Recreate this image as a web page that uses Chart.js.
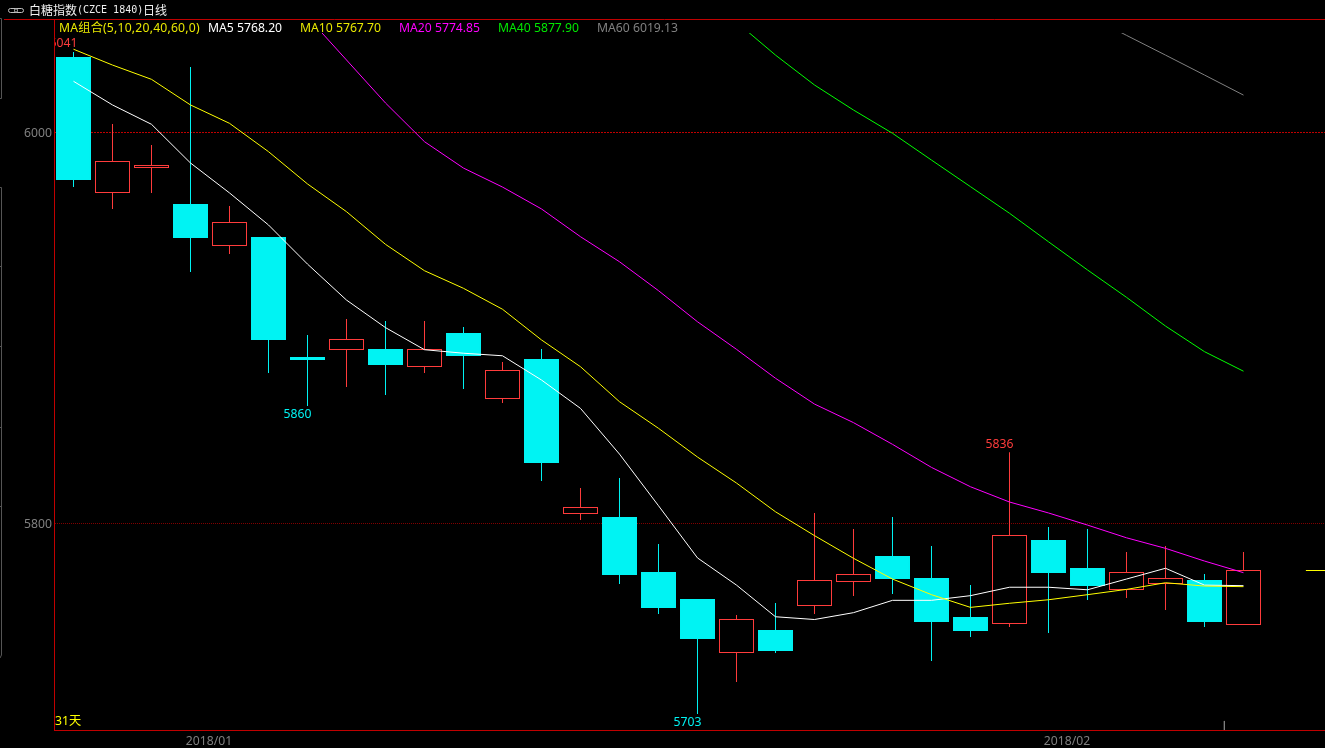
<!DOCTYPE html>
<html>
<head>
<meta charset="utf-8">
<title>白糖指数(CZCE 1840)日线</title>
<script src="https://cdn.jsdelivr.net/npm/chart.js@4/dist/chart.umd.min.js"></script>
<style>
  html, body { margin: 0; padding: 0; background: #000; overflow: hidden; }
  canvas { display: block; background: #000; }
</style>
</head>
<body>
<canvas id="kline" width="1325" height="748"></canvas>
<script>
// Trading days shown on the chart
const dates = [
  '2017/12/26', '2017/12/27', '2017/12/28', '2017/12/29',
  '2018/01/02', '2018/01/03', '2018/01/04', '2018/01/05',
  '2018/01/08', '2018/01/09', '2018/01/10', '2018/01/11', '2018/01/12',
  '2018/01/15', '2018/01/16', '2018/01/17', '2018/01/18', '2018/01/19',
  '2018/01/22', '2018/01/23', '2018/01/24', '2018/01/25', '2018/01/26',
  '2018/01/29', '2018/01/30', '2018/01/31',
  '2018/02/01', '2018/02/02', '2018/02/05', '2018/02/06', '2018/02/07'
];

// OHLC
const opens = [
  6038.6, 5969.1, 5981.8, 5963.4, 5941.9, 5946.5, 5885.2, 5888.7, 5889.3, 5880.1, 5897.4,
  5863.7, 5884.1, 5804.9, 5803.3, 5775.2, 5761.4, 5733.8, 5745.5, 5757.8, 5770.1,
  5783.4, 5772.1, 5752.2, 5748.6, 5791.6, 5777.2, 5766.0, 5769.1, 5771.1, 5748.1
];
const highs = [
  6041.2, 6004.3, 5993.6, 6033.5, 5962.4, 5946.5, 5896.4, 5904.6, 5903.6, 5903.6, 5900.5,
  5882.6, 5889.3, 5818.2, 5823.3, 5789.5, 5761.4, 5753.2, 5759.3, 5805.4, 5797.2,
  5803.3, 5788.5, 5768.5, 5836.4, 5798.2, 5797.2, 5785.4, 5788.5, 5774.2, 5785.4
];
const lows = [
  5972.1, 5960.9, 5969.1, 5928.6, 5937.9, 5877.0, 5860.1, 5869.8, 5865.7, 5877.0, 5868.8,
  5861.6, 5821.7, 5801.8, 5769.1, 5753.7, 5702.6, 5718.9, 5733.8, 5753.7, 5762.9,
  5763.9, 5729.7, 5741.9, 5747.1, 5744.0, 5760.9, 5761.9, 5755.8, 5747.1, 5748.1
];
const closes = [
  5975.7, 5985.4, 5983.4, 5946.0, 5954.2, 5893.9, 5883.6, 5894.4, 5881.1, 5889.3, 5885.7,
  5878.5, 5830.9, 5808.4, 5773.7, 5756.8, 5740.9, 5751.2, 5734.8, 5771.1, 5774.2,
  5771.6, 5749.6, 5745.0, 5794.1, 5774.7, 5768.0, 5775.2, 5772.1, 5749.6, 5776.2
];

// Moving averages (null until the line enters the plot)
const ma5 = [
  6026.2, 6014.1, 6004.2, 5984.4, 5969.1, 5952.7, 5932.7, 5914.3, 5900.2, 5888.9, 5887.1,
  5885.8, 5873.4, 5858.9, 5835.5, 5809.1, 5782.4, 5768.5, 5752.3, 5750.9, 5754.4,
  5760.7, 5760.7, 5763.1, 5767.4, 5767.4, 5766.1, 5771.6, 5777.1, 5768.5, 5768.2
];
const ma10 = [
  6042.6, 6034.5, 6027.2, 6014.1, 6004.7, 5990.2, 5973.7, 5959.5, 5942.8, 5929.3, 5920.3,
  5909.6, 5893.9, 5880.2, 5862.3, 5848.7, 5834.0, 5820.7, 5806.0, 5793.8, 5782.2,
  5771.6, 5763.6, 5757.1, 5759.2, 5761.0, 5763.6, 5766.3, 5769.7, 5768.0, 5767.7
];
const ma20 = [
  null, null, null, null, null, null, 6059.1, 6037.1, 6015.1, 5995.3, 5981.8,
  5972.1, 5960.9, 5946.7, 5933.9, 5919.1, 5903.2, 5889.1, 5874.3, 5861.1, 5851.6,
  5840.5, 5828.7, 5818.8, 5811.0, 5805.4, 5799.2, 5792.7, 5787.3, 5780.8, 5774.85
];
const ma40 = [
  null, null, null, null, null, null, null, null, null, null, null,
  null, null, null, null, null, null, 6056.5, 6039.6, 6024.3, 6011.5,
  5999.6, 5985.9, 5972.3, 5958.7, 5944.1, 5929.7, 5915.7, 5901.0, 5887.9, 5877.9
];
const ma60 = [
  null, null, null, null, null, null, null, null, null, null, null,
  null, null, null, null, null, null, null, null, null, null,
  null, null, null, null, null, 6060.1, 6049.7, 6039.6, 6029.4, 6019.13
];

// Value axis ticks, marked highs and lows
const priceTicks = [5800, 6000];
const markedHighs = [0, 24];
const markedLows = [6, 16];

// Short marks at the right end of the plot
const lastPriceX = [31.6, 32.09];
const lastPriceY = [5775.96, 5775.96];
const todayX = [29.51, 29.51];
const todayY = [5699, 5694.38];

const legendLabels = [
  'MA组合(5,10,20,40,60,0)',
  'MA5 5768.20',
  'MA10 5767.70',
  'MA20 5774.85',
  'MA40 5877.90',
  'MA60 6019.13'
];

const COLORS = {
  up: '#ff3c3c',
  down: '#00f3f3',
  axis: '#c00000',
  text: '#808080',
  yellow: '#ffff00'
};
const UI_FONT = '"Noto Sans", "Noto Sans CJK SC", sans-serif';
const LEGEND_COLORS = ['#e8e800', '#ffffff', '#e8e800', '#ff00ff', '#00e800', '#808080'];
const LEGEND_X = [59, 208, 300, 399, 498, 597];

const isUp = dates.map((d, i) => closes[i] >= opens[i]);
const candleColors = isUp.map(up => (up ? COLORS.up : COLORS.down));

// Month labels sit half a slot before the first session of the month
const monthTicks = dates
  .map((d, i) => ({ label: d.slice(0, 7), value: i - 0.5, first: i > 0 && d.slice(0, 7) !== dates[i - 1].slice(0, 7) }))
  .filter(t => t.first);

function maDataset(values, color) {
  return {
    type: 'line',
    data: values.map((v, i) => ({ x: i, y: v })),
    borderColor: color,
    borderWidth: 1,
    pointRadius: 0,
    tension: 0,
    spanGaps: false,
    order: 1,
    clip: { left: 0, top: -14, right: 0, bottom: 0 } // lines stop under the legend row
  };
}

function markDataset(xs, ys, color) {
  return {
    type: 'line',
    data: xs.map((x, i) => ({ x: x, y: ys[i] })),
    borderColor: color,
    borderWidth: 1,
    pointRadius: 0,
    order: 1
  };
}

// Title, legend and frame bits that are not part of the axes
const headerPlugin = {
  id: 'header',
  afterDraw: (chart) => {
    const ctx = chart.ctx;
    ctx.save();

    // Frame: top rule and the remains of the side panel
    ctx.strokeStyle = COLORS.axis;
    ctx.lineWidth = 1;
    ctx.beginPath();
    ctx.moveTo(4, 19.5);
    ctx.lineTo(1325, 19.5);
    ctx.stroke();

    ctx.strokeStyle = '#555';
    ctx.beginPath();
    ctx.moveTo(0, 18.5); ctx.lineTo(1.5, 18.5); ctx.lineTo(1.5, 98.5); ctx.lineTo(0, 98.5);
    ctx.moveTo(0, 187.5); ctx.lineTo(1.5, 187.5); ctx.lineTo(1.5, 655); ctx.lineTo(0, 658);
    [266.5, 346.5, 427.5, 506.5].forEach(y => { ctx.moveTo(0, y); ctx.lineTo(1.5, y); });
    ctx.stroke();

    // Link icon
    ctx.strokeStyle = '#c0c0c0';
    ctx.beginPath();
    ctx.roundRect(8.5, 8.5, 9, 4, 2);
    ctx.roundRect(14.5, 8.5, 9, 4, 2);
    ctx.stroke();

    // Title
    ctx.textBaseline = 'middle';
    ctx.fillStyle = '#f0f0f0';
    ctx.font = '12px "Noto Sans CJK SC"';
    ctx.fillText('白糖指数', 29, 10);
    ctx.fillText('日线', 143, 10);
    ctx.font = '10px "DejaVu Sans Mono"';
    ctx.fillText('(CZCE 1840)', 77, 10);

    // MA legend
    ctx.font = '12.2px ' + UI_FONT;
    legendLabels.forEach((text, i) => {
      ctx.fillStyle = LEGEND_COLORS[i];
      ctx.letterSpacing = i === 0 ? '0.2px' : '0px';
      ctx.fillText(text, LEGEND_X[i], 29);
    });
    ctx.letterSpacing = '0px';

    ctx.fillStyle = COLORS.yellow;
    ctx.fillText('31天', 55, 722);
    ctx.restore();
  }
};

// Price labels next to the extreme candles
const extremeLabels = {
  id: 'extremeLabels',
  afterDatasetsDraw: (chart) => {
    const ctx = chart.ctx;
    const x = chart.scales.x;
    const y = chart.scales.y;
    const area = chart.chartArea;
    ctx.save();
    ctx.beginPath();
    ctx.rect(area.left + 1, area.top, area.right - area.left, area.bottom - area.top);
    ctx.clip();
    ctx.font = '12.2px ' + UI_FONT;
    ctx.textAlign = 'center';
    ctx.textBaseline = 'middle';
    markedHighs.forEach(i => {
      ctx.fillStyle = COLORS.up;
      ctx.fillText(String(Math.round(highs[i])), x.getPixelForValue(i) - 10, y.getPixelForValue(highs[i]) - 8);
    });
    markedLows.forEach(i => {
      ctx.fillStyle = COLORS.down;
      ctx.fillText(String(Math.round(lows[i])), x.getPixelForValue(i) - 10, y.getPixelForValue(lows[i]) + 9);
    });
    ctx.restore();
  }
};

new Chart(document.getElementById('kline').getContext('2d'), {
  type: 'bar',
  data: {
    datasets: [
      maDataset(ma60, '#808080'),
      maDataset(ma40, '#00ff00'),
      maDataset(ma20, '#ff00ff'),
      maDataset(ma10, COLORS.yellow),
      maDataset(ma5, '#ffffff'),
      markDataset(lastPriceX, lastPriceY, COLORS.yellow),
      markDataset(todayX, todayY, '#808080'),
      {
        // Candle bodies, hollow when the close is above the open
        data: dates.map((d, i) => ({ x: i, y: [opens[i], closes[i]] })),
        backgroundColor: isUp.map(up => (up ? '#000000' : COLORS.down)),
        borderColor: candleColors,
        borderWidth: 1,
        borderSkipped: false,
        inflateAmount: 0,
        barThickness: 35,
        grouped: false,
        order: 2
      },
      {
        // Wicks, high to low
        data: dates.map((d, i) => ({ x: i, y: [lows[i], highs[i]] })),
        backgroundColor: candleColors,
        borderWidth: 0,
        inflateAmount: 0,
        barThickness: 1,
        grouped: false,
        order: 3
      }
    ]
  },
  options: {
    responsive: false,
    animation: false,
    events: [],
    layout: { padding: { top: 19, left: 0, right: 0, bottom: 0 } },
    plugins: {
      legend: { display: false },
      title: { display: false },
      tooltip: { enabled: false }
    },
    scales: {
      x: {
        type: 'linear',
        offset: false,
        min: -0.5,
        max: 32.09,
        afterBuildTicks: (scale) => {
          scale.ticks = monthTicks.map(t => ({ value: t.value }));
        },
        afterFit: (scale) => { scale.height = 18; },
        ticks: {
          autoSkip: false,
          maxRotation: 0,
          padding: 4,
          labelOffset: -1,
          color: COLORS.text,
          font: { family: UI_FONT, size: 12.2 },
          callback: (value) => monthTicks.find(t => t.value === value).label
        },
        grid: { drawOnChartArea: false, drawTicks: false },
        border: { color: COLORS.axis, width: 1 }
      },
      y: {
        type: 'linear',
        min: 5694.38,
        max: 6058.06,
        afterBuildTicks: (scale) => {
          scale.ticks = priceTicks.map(v => ({ value: v }));
        },
        afterFit: (scale) => { scale.width = 54; },
        ticks: {
          padding: 2,
          labelOffset: 1,
          color: COLORS.text,
          font: { family: UI_FONT, size: 12.2 },
          callback: (value) => String(value)
        },
        grid: {
          drawTicks: false,
          color: (c) => (c.tick && c.tick.value === 6000 ? '#c00000' : '#800000')
        },
        border: {
          color: COLORS.axis,
          width: 1,
          dash: (c) => (c.tick && c.tick.value === 6000 ? [2, 1] : [1, 1])
        }
      }
    }
  },
  plugins: [headerPlugin, extremeLabels]
});
</script>
</body>
</html>
